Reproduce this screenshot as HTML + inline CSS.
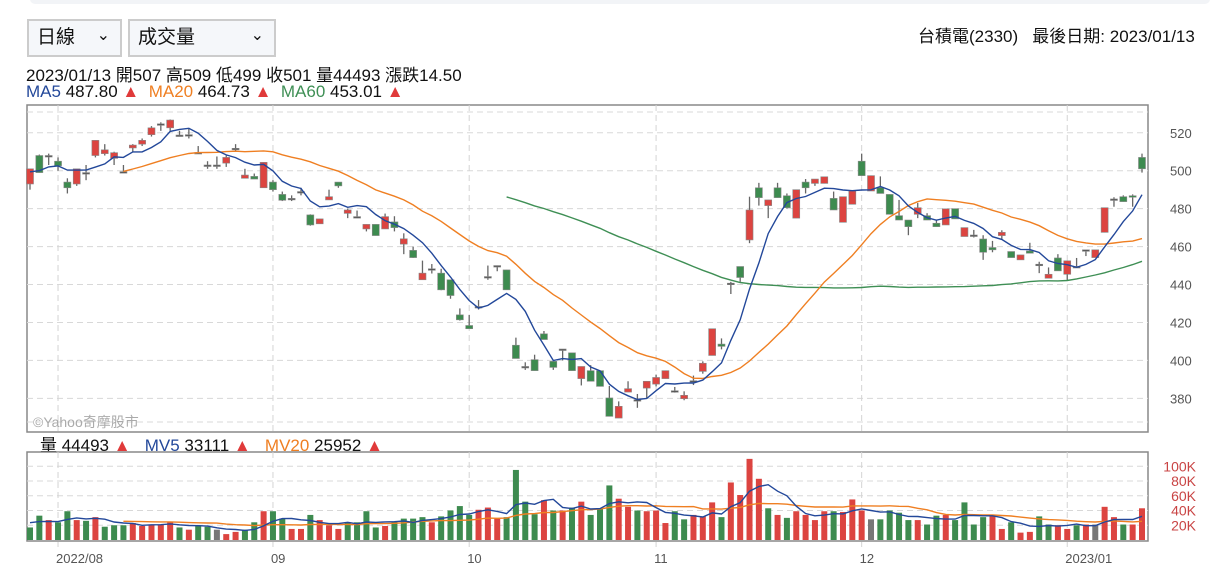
<!DOCTYPE html>
<html><head><meta charset="utf-8">
<style>
body{margin:0;background:#fff;width:1220px;height:584px;overflow:hidden;font-family:"Liberation Sans","Noto Sans CJK TC",sans-serif;}
.sel{position:absolute;top:19px;height:38px;border:2px solid #ccc;background:#f5f7fa;box-sizing:border-box;font-size:19px;line-height:34px;padding-left:8px;color:#111;}
.sel span{position:absolute;right:10px;top:-2px;font-size:16px;}
.t{position:absolute;white-space:nowrap;color:#111;}
</style></head><body>
<div style="position:absolute;left:30px;top:-6px;width:1180px;height:10px;background:#f2f4f7;border-radius:6px;"></div>
<div class="sel" style="left:27px;width:95px;">日線<span>&#8964;</span></div>
<div class="sel" style="left:128px;width:148px;">成交量<span>&#8964;</span></div>
<div class="t" style="left:918px;top:22px;font-size:17px;">台積電(2330)&nbsp;&nbsp; 最後日期: 2023/01/13</div>
<div class="t" style="left:26px;top:61px;font-size:17px;">2023/01/13 開507 高509 低499 收501 量44493 漲跌14.50</div>
<div class="t" style="left:26px;top:82px;font-size:17px;"><span style="color:#23489a">MA5</span> 487.80 <span style="color:#e03a3a">▲</span>&nbsp; <span style="color:#ef7f22">MA20</span> 464.73 <span style="color:#e03a3a">▲</span>&nbsp; <span style="color:#3f8f55">MA60</span> 453.01 <span style="color:#e03a3a">▲</span></div>
<div class="t" style="left:40px;top:431px;font-size:17px;">量 44493 <span style="color:#e03a3a">▲</span>&nbsp;&nbsp; <span style="color:#23489a">MV5</span> 33111 <span style="color:#e03a3a">▲</span>&nbsp;&nbsp; <span style="color:#ef7f22">MV20</span> 25952 <span style="color:#e03a3a">▲</span></div>
<svg id="c" width="1220" height="584" style="position:absolute;left:0;top:0"></svg>
<script>
const opens=[493,508,508,505,494,493,499,508,509,506.5,499.5,512,514,519,524.7,522.6,518.8,519,509.6,503,503,504,511.8,496,497,491,494,487.5,485.4,489,476.7,472,484.6,494,477.5,475.8,469.3,471.7,469.3,473,461.3,458,442.5,448.3,446,442.5,424,418.4,428.4,444.2,450,447.7,408,396.8,400.4,414,399.5,406,404,390.4,394.6,394.6,380.2,369.6,383.3,379.3,385.4,387.5,390.4,384,379.8,389.3,394.2,402.6,408.6,440.7,449.5,463.5,491,481.6,491,486.8,475,494,493.3,493.3,485.4,472.8,482.3,505,489.3,491,487.5,476.3,474,477,476.3,472.3,471.4,480,465.3,466.1,464,459.5,465.8,457.4,453,457.7,450.7,443.3,454,445.4,449.5,458.3,454.2,467.5,485.1,486.3,486.8,507];
const highs=[501,508.5,509,507,496,501,503,516,514,510,503,514,517,523.5,525.5,527,521,522,513,505,507.5,508,514,501,498.5,504.4,495,489,487,491,477,474.6,490,494,480,479,471.7,471.7,477.4,476,467,460,452.6,450.8,448.3,442.5,427.4,424,431.8,450,450,447.7,412,399,403,415.5,399.5,406,404,396.8,397.5,394.6,386.5,378.4,389,382.3,389,392.5,394.6,386,383.7,392,399.5,416.7,411.6,441.4,449.5,486.3,493.6,484.6,493.6,488,490,495.6,495.6,496.8,489,486.3,489.3,509,497.4,497,487.5,484.6,474,483,477.6,474,479.9,480,470,468.8,466,463,468.6,457.4,455.6,462,452,449,456,452.5,454,458.3,458.3,480.5,486,487,487.5,509];
const lows=[490,499,503,500,488,492,495,507,508,503,499,510,513,518,521,521,518.8,517,509,501,501,502,510,496,495.6,491,489,484,484,487,471,472,484.6,491,475,475,468,465.8,469.3,468,456,454,442.5,445.8,437,432.5,421,416.7,426.8,442.5,447,437.2,401,395,394.6,411,395,400,394.6,386.8,389,386.3,370.5,369.6,383.3,375,380,386.3,390.4,383,379,387,393,402.6,405.8,435,441.4,461.8,481.6,475,485.8,480,475,488,492,493.3,479.3,472.8,482.3,497.4,489.3,488,477,474,466,475,474,470.5,471.4,474.6,465.3,464.8,453,457,464,454.2,453,456.5,446,443.3,447.2,442,449,455,454.2,467.5,481,483.7,481,499];
const closes=[501,499,508,502.6,491,501,499,516,511,509.5,499.5,513.5,516,522.6,524.7,526.7,518.8,519,509.6,503,503,507,511.8,497.7,495.6,504.4,490,484.4,485.4,489,471.4,474.6,486.3,492,479.3,475.8,471.7,465.8,475.8,470,464.1,454.2,446,448.3,437.2,434.2,421.4,416.7,428.4,444.2,450,437.2,401,396.8,394.6,411,396.3,406,394.6,396.8,389,386.3,370.5,375.8,385.1,379.3,389,391,394.6,384,381.6,389.3,398.5,416.7,407.4,440.7,443.7,479.3,485.8,484.6,485.8,480.5,490,491,495.6,496.8,479.3,486.3,489.3,497.4,497.4,488,477,474,470.5,480.5,474,470.5,479.9,474.6,470,466.1,457,458.3,467.5,454.2,455.6,456.5,450.7,445.4,447.2,452.5,449.5,458.3,458.3,480.5,485.1,483.7,486.5,501];
const volumes=[17,33,27,24,39,27,26,31,18,20,20,23,19,21,21,25,17,14,20,18,14,8,11,14,24,39,39,29,15,15,34,27,20,15,24,24,39,17,19,25,29,29,31,24,32,40,46,34,41,44,29,31,95,52,35,54,40,40,44,52,34,43,74,56,45,40,39,40,23,39,28,34,32,51,31,78,61,110,83,43,34,30,39,34,27,39,39,38,55,40,28,28,40,37,27,27,21,33,34,27,51,21,31,34,15,24,10,11,32,21,20,15,20,21,21,45,31,21,21,43];
const priorCloses=[488,490,492,494,495,496,498,500,502];
const priorVolumes=[24,25,26,25,24,25,26,25,24];
const priceTicks=[520,500,480,460,440,420,400,380];
const volTicks=[100,80,60,40,20];
const volTickLabels=["100K","80K","60K","40K","20K"];
const monthIdx=[3,26,47,67,89,111];
const monthLabels=["2022/08","09","10","11","12","2023/01"];

const NS="http://www.w3.org/2000/svg";
const svg=document.getElementById('c');
const L=27,R=1148,PT=105,PB=432,VT=452,VB=541;
const xOf=i=>30+i*(1142-30)/(closes.length-1);
const yP=p=>170.7+(500-p)*1.897;
const yV=v=>540-v*0.7375;
function mk(tag,attrs,parent){const e=document.createElementNS(NS,tag);for(const k in attrs)e.setAttribute(k,attrs[k]);(parent||svg).appendChild(e);return e;}

const p1=mk('rect',{x:L,y:PT,width:R-L,height:PB-PT,fill:'#fff',stroke:'#888','stroke-width':1.5});


const p2=mk('rect',{x:L,y:VT,width:R-L,height:VB-VT,fill:'#fff',stroke:'#888','stroke-width':1.5});



[112,422].concat(priceTicks.map(yP)).forEach(y=>{
  const g=mk('line',{x1:L,x2:R,y1:y,y2:y,stroke:'#d8d8d8','stroke-dasharray':'6,4'});
  
  
});
priceTicks.forEach(p=>{
  const t=mk('text',{x:1170,y:yP(p)+5,'font-size':13,fill:'#555'});t.textContent=p;
  
  
});
volTicks.forEach((v,k)=>{
  const g=mk('line',{x1:L,x2:R,y1:yV(v),y2:yV(v),stroke:'#d8d8d8','stroke-dasharray':'6,4'});
  
  
  const t=mk('text',{x:1196,y:yV(v)+5,'font-size':14,fill:'#c94444','text-anchor':'end'});t.textContent=volTickLabels[k];
  
  
});
monthIdx.forEach((i,k)=>{
  const x=xOf(i);
  const g=mk('line',{x1:x,x2:x,y1:PT,y2:PB,stroke:'#d4d4d4','stroke-dasharray':'6,4'});
  
  
  const g2=mk('line',{x1:x,x2:x,y1:VT,y2:VB+6,stroke:'#d4d4d4','stroke-dasharray':'6,4'});
  
  
  const t=mk('text',{x:x-2,y:563,'font-size':13,fill:'#555'});t.textContent=monthLabels[k];
  
  
});
const wm=mk('text',{x:33,y:427,'font-size':14,fill:'#aaa'});wm.textContent='©Yahoo奇摩股市';



const RED='#dc4440',GRN='#3d8b4f',GRY='#777';
closes.forEach((c,i)=>{
  const x=xOf(i),o=opens[i];
  const col=c>o?RED:(c<o?GRN:'#555');
  const w=mk('line',{x1:x,x2:x,y1:yP(highs[i]),y2:yP(lows[i]),stroke:'#666','stroke-width':1.3});
  
  
  const top=yP(Math.max(o,c)),h=Math.max(1.5,yP(Math.min(o,c))-top);
  const b=mk('rect',{x:x-3.5,y:top,width:7,height:h,fill:col,stroke:'#888','stroke-width':0.6});
  
  
  const pc=i>0?closes[i-1]:priorCloses[priorCloses.length-1];
  const vc=c>pc?RED:(c<pc?GRN:GRY);
  const vb=mk('rect',{x:x-3,y:yV(volumes[i]),width:6,height:540-yV(volumes[i]),fill:vc});
  
  
});

function maLine(vals,prior,n,yf,color,name,startIdx){
  const all=prior.concat(vals);const off=prior.length;let pts=[];
  vals.forEach((v,i)=>{
    if(i<startIdx)return;
    const s=all.slice(off+i-n+1,off+i+1);
    if(s.length<n)return;
    pts.push(xOf(i).toFixed(1)+','+yf(s.reduce((a,b)=>a+b,0)/n).toFixed(1));
  });
  const pl=mk('polyline',{points:pts.join(' '),fill:'none',stroke:color,'stroke-width':1.4});
  
  
}
maLine(closes,priorCloses,60,yP,'#3f8f55','ma60-line',51);
maLine(closes,priorCloses,20,yP,'#ef7f22','ma20-line',10);
maLine(closes,priorCloses,5,yP,'#23489a','ma5-line',0);
maLine(volumes,priorVolumes,20,yV,'#ef7f22','mv20-line',10);
maLine(volumes,priorVolumes,5,yV,'#23489a','mv5-line',0);
</script>
</body></html>
